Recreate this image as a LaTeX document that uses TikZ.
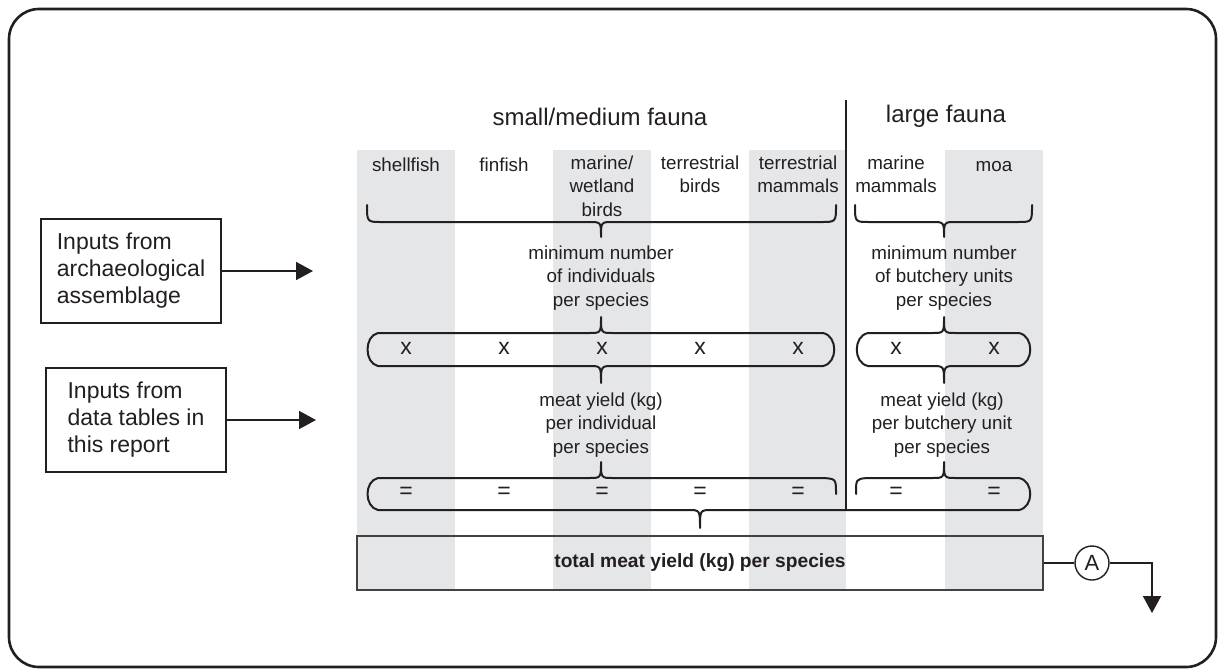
\documentclass[tikz,border=0pt]{standalone}
\usepackage{fontspec}
\setmainfont{Liberation Sans}
\usetikzlibrary{arrows.meta}

\definecolor{colgrey}{RGB}{229,230,232}
\definecolor{ink}{RGB}{35,31,32}

\begin{document}
\begin{tikzpicture}[
    x=0.5pt, y=-0.5pt,
    every node/.style={text=ink},
    heading/.style={font=\fontsize{12}{14}\selectfont},
    species/.style={font=\fontsize{9.4}{11.75}\selectfont, align=center, anchor=north, inner sep=0pt, execute at begin node=\strut},
    op/.style={font=\fontsize{11.5}{13}\selectfont},
    inputbox/.style={draw=ink, line width=0.9pt, minimum width=90pt, minimum height=52pt, align=left, font=\fontsize{11.5}{13.5}\selectfont},
    total/.style={draw=ink!85, line width=0.8pt, minimum width=343pt, minimum height=27pt, font=\fontsize{9.6}{11}\selectfont\bfseries},
    marker/.style={circle, draw=ink, line width=0.7pt, minimum size=17pt, inner sep=0pt, font=\fontsize{11}{12}\selectfont},
    brace/.style={draw=ink, line width=1pt, line cap=round, line join=round},
    feed/.style={draw=ink, line width=0.9pt, -{Triangle[length=8.5pt, width=9pt]}},
    link/.style={draw=ink, line width=0.9pt},
    outerframe/.style={draw=ink, line width=1.3pt, rounded corners=15pt},
    column/.style={fill=colgrey}
]
\useasboundingbox (0,0) rectangle (1219,669);

% Outer frame
\draw[outerframe] (9,9) rectangle (1216,667);

% Grey columns
\fill[column] (357,150) rectangle (455,590);
\fill[column] (553,150) rectangle (651,590);
\fill[column] (749,150) rectangle (846,590);
\fill[column] (945,150) rectangle (1043,590);

% Divider between the two groups
\draw[link] (846,100) -- (846,510);

% Group headings
\node[heading] (small) at (600,117) {small/medium fauna};
\node[heading] (large) at (946,116) {large fauna};

% Species
\node[species] (shell) at (406,155) {shellfish};
\node[species] (fin) at (504,155) {finfish};
\node[species] (marbird) at (602,155) {marine/\\wetland\\birds};
\node[species] (terbird) at (700,155) {terrestrial\\birds};
\node[species] (termam) at (798,155) {terrestrial\\mammals};
\node[species] (marmam) at (896,155) {marine\\mammals};
\node[species] (moa) at (994,155) {moa};

% Braces under the species
\draw[brace] (367,205) .. controls (367,222) .. (382,222) -- (589,222)
    .. controls (601,222) .. (601,237) .. controls (601,222) .. (613,222)
    -- (821,222) .. controls (836,222) .. (836,205);
\draw[brace] (855,205) .. controls (855,222) .. (869,222) -- (932,222)
    .. controls (944,222) .. (944,237) .. controls (944,222) .. (956,222)
    -- (1018,222) .. controls (1032,222) .. (1032,205);

% Counts
\node[species] (mni) at (601,245) {minimum number\\of individuals\\per species};
\node[species] (mnbu) at (944,245) {minimum number\\of butchery units\\per species};

% Multiply row
\draw[brace] (378,333) -- (589,333) .. controls (601,333) .. (601,317)
    .. controls (601,333) .. (613,333) -- (823,333)
    .. controls (838,336) and (838,363) .. (823,366) -- (613,366)
    .. controls (601,366) .. (601,383) .. controls (601,366) .. (589,366)
    -- (378,366) .. controls (364,363) and (364,336) .. (378,333) -- cycle;
\draw[brace] (868,333) -- (932,333) .. controls (944,333) .. (944,317)
    .. controls (944,333) .. (956,333) -- (1019,333)
    .. controls (1034,336) and (1034,363) .. (1019,366) -- (956,366)
    .. controls (944,366) .. (944,383) .. controls (944,366) .. (932,366)
    -- (868,366) .. controls (853,363) and (853,336) .. (868,333) -- cycle;
\node[op] (t1) at (406,348) {x};
\node[op] (t2) at (504,348) {x};
\node[op] (t3) at (602,348) {x};
\node[op] (t4) at (700,348) {x};
\node[op] (t5) at (798,348) {x};
\node[op] (t6) at (896,348) {x};
\node[op] (t7) at (994,348) {x};

% Yields
\node[species] (yind) at (601,392) {meat yield (kg)\\per individual\\per species};
\node[species] (ybu) at (942,392) {meat yield (kg)\\per butchery unit\\per species};

% Equals row
\draw[brace] (836,494) .. controls (836,479) .. (824,478) -- (613,478)
    .. controls (601,478) .. (601,462) .. controls (601,478) .. (589,478)
    -- (378,478) .. controls (364,481) and (364,507) .. (378,510) -- (688,510)
    .. controls (700,510) .. (700,528) .. controls (700,510) .. (712,510)
    -- (1019,510) .. controls (1034,507) and (1034,481) .. (1019,478)
    -- (956,478) .. controls (944,478) .. (944,462) .. controls (944,478) .. (932,478)
    -- (867,478) .. controls (856,479) .. (856,494);
\node[op] (e1) at (406,493) {=};
\node[op] (e2) at (504,493) {=};
\node[op] (e3) at (602,493) {=};
\node[op] (e4) at (700,493) {=};
\node[op] (e5) at (798,493) {=};
\node[op] (e6) at (896,493) {=};
\node[op] (e7) at (994,493) {=};

% Total
\node[total] (total) at (700,563) {total meat yield (kg) per species};
\node[marker] (markA) at (1092,563) {A};
\coordinate (outend) at (1152,613);
\draw[link] (total.east) -- (markA.west);
\draw[feed] (markA.east) -| (outend);

% Inputs
\node[inputbox] (arch) at (131,271) {Inputs from\\archaeological\\assemblage};
\node[inputbox] (tables) at (136,420) {Inputs from\\data tables in\\this report};
\coordinate (archend) at (313,271);
\coordinate (tablesend) at (316,420);
\draw[feed] (arch.east) -- (archend);
\draw[feed] (tables.east) -- (tablesend);

\end{tikzpicture}
\end{document}
